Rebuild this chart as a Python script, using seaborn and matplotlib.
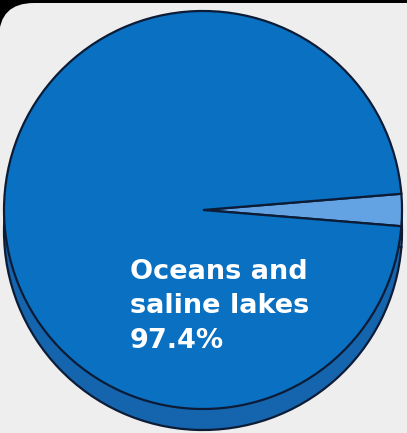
import matplotlib
matplotlib.use("Agg")
import matplotlib.pyplot as plt
from matplotlib.patches import FancyBboxPatch, Rectangle
import seaborn as sns

# Share of the world's water
categories = ["Freshwater", "Oceans and saline lakes"]
shares = [2.6, 97.4]
label_text = "Oceans and\nsaline lakes"

sns.set_theme(style="white")
plt.rcParams["font.family"] = ["DejaVu Sans"]

W, H = 407, 433
fig = plt.figure(figsize=(W / 100, H / 100), dpi=100, facecolor="black")
ax = fig.add_axes([0, 0, 1, 1])
ax.set_axis_off()

top_colors = ["#64a3e3", "#0a70c2"]
side_colors = ["#4a8bcc", "#1565ae"]
edge = "#0c1c36"

cx, cy, r, depth = 203, 223, 199, 21
start = -shares[0] / sum(shares) * 360 / 2

# rounded light panel behind the chart
panel = FancyBboxPatch((-1, -60), W + 60, 60 + H - 3,
                       boxstyle="round,pad=0,rounding_size=35",
                       facecolor="#eeeeee", edgecolor="none", zorder=0)
ax.add_patch(panel)

# extruded base of the pie
ax.pie(shares, colors=side_colors, startangle=start, counterclock=True,
       center=(cx, cy - depth), radius=r, frame=True,
       wedgeprops=dict(edgecolor=edge, linewidth=1.6, zorder=1))
ax.add_patch(Rectangle((cx - r, cy - depth), 2 * r, depth,
                       facecolor=side_colors[1], edgecolor="none", zorder=2))

# top face
wedges, _ = ax.pie(shares, colors=top_colors, startangle=start, counterclock=True,
                   center=(cx, cy), radius=r, frame=True,
                   wedgeprops=dict(edgecolor=edge, linewidth=1.6))
for w in wedges:
    w.set_zorder(3)

ax.text(130, H - 348, f"{label_text}\n{shares[1]:.1f}%", color="white",
        fontsize=19.5, fontweight="bold", ha="left", va="baseline",
        linespacing=1.43, zorder=4)

ax.set_xlim(0, W)
ax.set_ylim(0, H)
ax.set_aspect("auto")
ax.set_axis_off()

fig.savefig("out.png", dpi=100, facecolor="black")
